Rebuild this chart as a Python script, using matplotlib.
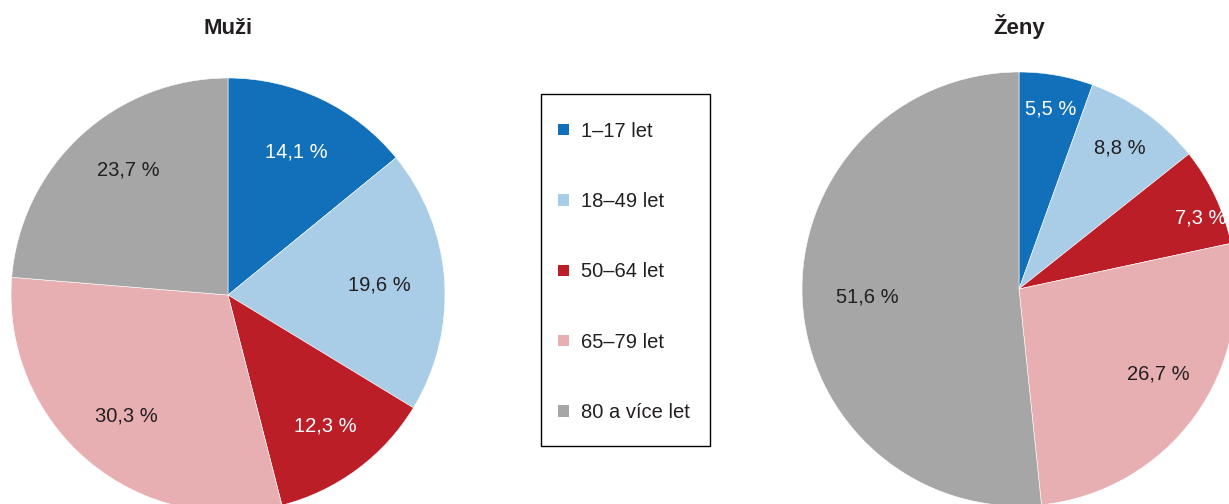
import math
import matplotlib.pyplot as plt
from matplotlib.patches import Patch, Rectangle

plt.rcParams['font.family'] = ['Liberation Sans', 'DejaVu Sans']

categories = ['1–17 let', '18–49 let', '50–64 let', '65–79 let', '80 a více let']
muzi = [14.1, 19.6, 12.3, 30.3, 23.7]
zeny = [5.5, 8.8, 7.3, 26.7, 51.6]
titles = ['Muži', 'Ženy']

colors = ['#1170b9', '#a9cce7', '#bc1e27', '#e8afb2', '#a6a6a6']
dark = '#231f20'
muzi_txt = ['white', dark, 'white', dark, dark]
zeny_txt = ['white', dark, 'white', dark, dark]
# label placement: fraction of radius, angular nudge in degrees
muzi_dist = [0.73, 0.70, 0.75, 0.73, 0.737]
muzi_nudge = [0, 0, 0, 0, 4]
zeny_dist = [0.84, 0.80, 0.90, 0.755, 0.70]
zeny_nudge = [0, 0, 4, -4.5, 0]

W, H = 1229, 504
fig = plt.figure(figsize=(W / 100, H / 100), dpi=100)


def draw_pie(cx, cy, r, values, txtcols, dists, nudges, title):
    # cx, cy in pixels from top-left
    ax = fig.add_axes([(cx - r) / W, (H - cy - r) / H, 2 * r / W, 2 * r / H])
    ax.pie(values, colors=colors, startangle=90, counterclock=False,
           radius=1, wedgeprops=dict(edgecolor='white', linewidth=0.4))
    total = sum(values)
    ang = 0.0
    for v, c, d, n in zip(values, txtcols, dists, nudges):
        mid = (ang + v / 2) / total * 2 * math.pi + math.radians(n)
        ang += v
        x, y = d * math.sin(mid), d * math.cos(mid)
        ax.text(x, y, f'{v:.1f} %'.replace('.', ','), ha='center', va='center',
                fontsize=14.5, color=c)
    ax.set_xlim(-1, 1)
    ax.set_ylim(-1, 1)
    ax.set_aspect('equal')
    ax.axis('off')
    fig.text(cx / W, 1 - 34 / H, title, ha='center', va='baseline',
             fontsize=16, fontweight='bold', color=dark)


draw_pie(228, 295, 217, muzi, muzi_txt, muzi_dist, muzi_nudge, titles[0])
draw_pie(1019, 289, 217, zeny, zeny_txt, zeny_dist, zeny_nudge, titles[1])

handles = [Patch(facecolor=c, edgecolor='none') for c in colors]
leg = fig.legend(handles, categories, loc='center', bbox_to_anchor=(624 / W, 1 - 272 / H),
                 frameon=False, fontsize=14.5, labelspacing=2.55,
                 handlelength=0.5, handleheight=0.5, handletextpad=0.6,
                 borderpad=0, borderaxespad=0)
for t in leg.get_texts():
    t.set_color(dark)

# legend frame
fig.add_artist(Rectangle((541 / W, 1 - 446 / H), (710 - 541) / W, (446 - 94) / H,
                         transform=fig.transFigure, fill=False,
                         edgecolor='black', linewidth=1.0))

fig.savefig('out.png', dpi=100)
